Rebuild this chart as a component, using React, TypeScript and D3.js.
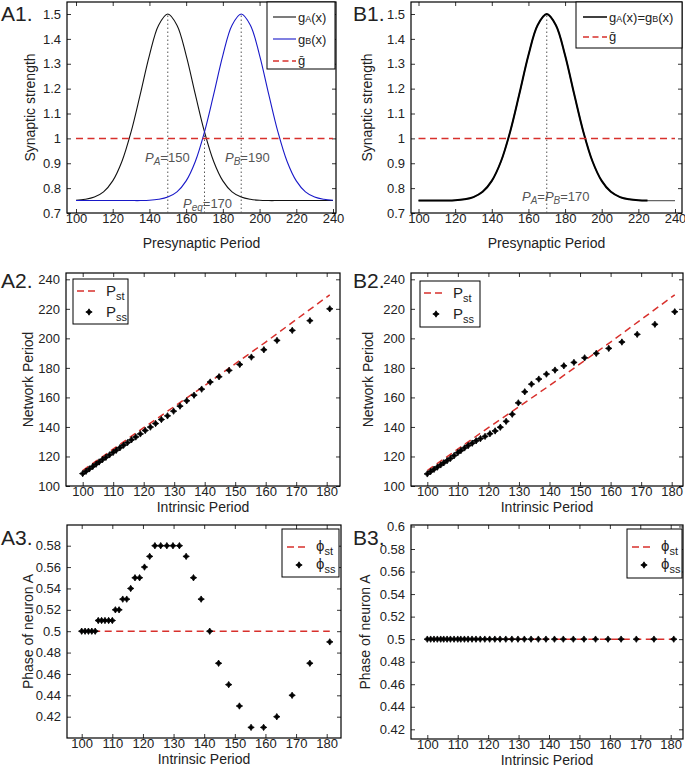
import * as d3 from 'd3';
import * as React from 'react';
import { useEffect, useRef } from 'react';

// ---- data ----

// top row: synaptic strength vs presynaptic period
const presynPeriod = [100, 105, 110, 115, 120, 125, 130, 135, 140, 145, 150, 155, 160, 165, 170, 175, 180, 185, 190, 195, 200, 205, 210, 215, 220, 225, 230, 235, 240];
const gA1 = [0.751, 0.755, 0.764, 0.785, 0.829, 0.907, 1.026, 1.177, 1.334, 1.455, 1.5, 1.455, 1.334, 1.177, 1.026, 0.907, 0.829, 0.785, 0.764, 0.755, 0.751, 0.75, 0.75, 0.75, 0.75, 0.75, 0.75, 0.75, 0.75];
const gB1 = [0.75, 0.75, 0.75, 0.75, 0.75, 0.75, 0.75, 0.75, 0.751, 0.755, 0.764, 0.785, 0.829, 0.907, 1.026, 1.177, 1.334, 1.455, 1.5, 1.455, 1.334, 1.177, 1.026, 0.907, 0.829, 0.785, 0.764, 0.755, 0.751];
const gEq = [0.75, 0.75, 0.75, 0.75, 0.751, 0.755, 0.764, 0.785, 0.829, 0.907, 1.026, 1.177, 1.334, 1.455, 1.5, 1.455, 1.334, 1.177, 1.026, 0.907, 0.829, 0.785, 0.764, 0.755, 0.751, 0.75, 0.75, 0.75, 0.75];
const gBar = 1;
const prefA = 150;
const prefB = 190;
const prefEq = 170;
const crossEq = 1.026;
const tailStart = 225; // B1: thick curve stops here, thin grey one continues

// middle + bottom rows: intrinsic period
const intrinsicPeriod = [100, 101.1, 102.2, 103.3, 104.4, 105.4, 106.5, 107.6, 108.8, 110, 111, 112.2, 113.4, 114.7, 116, 117.4, 118.9, 120.5, 122.2, 123.9, 125.8, 127.8, 129.8, 131.9, 134.1, 136.5, 139, 141.8, 144.7, 148, 151.5, 155.3, 159.4, 163.7, 168.7, 174.5, 181];
const pssA = [108.4, 110, 111.6, 113.2, 114.8, 116.3, 117.9, 119.4, 121.1, 122.8, 124.2, 125.9, 127.6, 129.4, 131.3, 133.2, 135.3, 137.6, 139.9, 142.3, 145, 147.5, 150.7, 154.1, 157.7, 161.5, 165.6, 170.4, 174, 178.3, 182.3, 187.3, 192.3, 198.6, 205.4, 212, 220];
const pssB = [108.2, 109.8, 111.3, 112.8, 114.3, 115.7, 117.2, 118.7, 120.6, 122.6, 124, 125.8, 127.4, 129, 130.6, 132.1, 133.6, 135.4, 137.3, 139.8, 143.8, 148.6, 156.3, 163.8, 169, 172.4, 175.8, 178.5, 181.4, 183.7, 186.8, 189.8, 193.2, 197.5, 202.7, 209.5, 218];
const pStX = [100, 120, 140, 160, 181];
const pStY = [110.5, 139.5, 168, 197.5, 229.5];
const phiSsA = [0.5, 0.5, 0.5, 0.5, 0.5, 0.51, 0.51, 0.51, 0.51, 0.51, 0.52, 0.52, 0.53, 0.53, 0.54, 0.55, 0.55, 0.56, 0.57, 0.58, 0.58, 0.58, 0.58, 0.58, 0.57, 0.55, 0.53, 0.5, 0.47, 0.45, 0.43, 0.41, 0.41, 0.42, 0.44, 0.47, 0.49];
const phiSsB = [0.5, 0.5, 0.5, 0.5, 0.5, 0.5, 0.5, 0.5, 0.5, 0.5, 0.5, 0.5, 0.5, 0.5, 0.5, 0.5, 0.5, 0.5, 0.5, 0.5, 0.5, 0.5, 0.5, 0.5, 0.5, 0.5, 0.5, 0.5, 0.5, 0.5, 0.5, 0.5, 0.5, 0.5, 0.5, 0.5, 0.5];
const phiStX = [100, 181];
const phiStY = [0.5, 0.5];

// tick labels
const presynTicks = [100, 120, 140, 160, 180, 200, 220, 240];
const strengthTicks = [0.7, 0.8, 0.9, 1, 1.1, 1.2, 1.3, 1.4, 1.5];
const intrinsicTicks = [100, 110, 120, 130, 140, 150, 160, 170, 180];
const networkTicks = [100, 120, 140, 160, 180, 200, 220, 240];
const phaseTicksA = [0.42, 0.44, 0.46, 0.48, 0.5, 0.52, 0.54, 0.56, 0.58];
const phaseTicksB = [0.42, 0.44, 0.46, 0.48, 0.5, 0.52, 0.54, 0.56, 0.58, 0.6];

// ---- layout ----
const W = 685;
const H = 767;
const FONT = '"Liberation Sans", Arial, Helvetica, sans-serif';
const RED = '#d8302c';
const BLUE = '#1818c8';
const GREY = '#555';

interface Box { l: number; r: number; t: number; b: number; }
interface Layout {
  box: Box;
  xd: [number, number]; xp: [number, number];
  yd: [number, number]; yp: [number, number];
}

const L: { [k: string]: Layout } = {
  A1: { box: { l: 67, r: 336, t: 2, b: 213 }, xd: [100, 240], xp: [76, 333], yd: [0.7, 1.5], yp: [213, 14] },
  B1: { box: { l: 411, r: 682, t: 2, b: 213 }, xd: [100, 240], xp: [418.5, 675], yd: [0.7, 1.5], yp: [213, 14] },
  A2: { box: { l: 66, r: 340, t: 273, b: 486 }, xd: [100, 180], xp: [82.7, 326.7], yd: [100, 240], yp: [486, 279.3] },
  B2: { box: { l: 411, r: 683, t: 273, b: 486 }, xd: [100, 180], xp: [427.3, 671.7], yd: [100, 240], yp: [486, 279.3] },
  A3: { box: { l: 67, r: 341, t: 525, b: 738 }, xd: [100, 180], xp: [81.7, 326.7], yd: [0.42, 0.58], yp: [716.7, 545.7] },
  B3: { box: { l: 411, r: 683, t: 525, b: 739 }, xd: [100, 180], xp: [427.3, 670.7], yd: [0.42, 0.58], yp: [729.3, 549] },
};

type Sel = d3.Selection<SVGGElement, unknown, null, undefined>;
type Part = { t: string; size?: number; dy?: number; italic?: boolean };

function richText(g: Sel, x: number, y: number, parts: Part[], size: number, color: string) {
  const txt = g.append('text')
    .attr('x', x).attr('y', y)
    .attr('font-family', FONT).attr('font-size', size).attr('fill', color);
  parts.forEach(p => {
    const s = txt.append('tspan').text(p.t);
    if (p.size) s.attr('font-size', p.size);
    if (p.dy) s.attr('dy', p.dy);
    if (p.italic) s.attr('font-style', 'italic');
  });
}

// four-pointed star marker (matlab-ish filled plus)
const starPath = d3.lineRadial<number>()
  .angle((_, i) => (i * Math.PI) / 4)
  .radius(r => r)
  .curve(d3.curveLinearClosed)([3.2, 1.7, 3.2, 1.7, 3.2, 1.7, 3.2, 1.7]) as string;

function marker(g: Sel, cx: number, cy: number) {
  g.append('path').attr('transform', `translate(${cx},${cy})`).attr('d', starPath)
    .attr('fill', '#000').attr('stroke', '#000').attr('stroke-width', 0.8).attr('stroke-linejoin', 'round');
}

function panel(svg: Sel, lay: Layout, xTicks: number[], yTicks: number[], tag: string, tagX: number, tagY: number,
               xLabel: string, xLabelY: number, yLabel: string, yLabelX: number) {
  const { box } = lay;
  const x = d3.scaleLinear().domain(lay.xd).range(lay.xp);
  const y = d3.scaleLinear().domain(lay.yd).range(lay.yp);
  const g = svg.append('g');
  const fmt = (d: d3.NumberValue) => String(d);
  const tk = 4;

  const style = (a: Sel) => {
    a.select('.domain').remove();
    a.selectAll('text').attr('font-family', FONT).attr('font-size', 13).attr('fill', '#222');
    a.selectAll('line').attr('stroke', '#000').attr('stroke-width', 0.8);
  };

  const bottom = g.append('g').attr('transform', `translate(0,${box.b})`)
    .call(d3.axisBottom(x).tickValues(xTicks).tickSizeInner(-tk).tickSizeOuter(0).tickPadding(1).tickFormat(fmt));
  style(bottom);
  const top = g.append('g').attr('transform', `translate(0,${box.t})`)
    .call(d3.axisTop(x).tickValues(xTicks).tickSizeInner(-tk).tickSizeOuter(0).tickFormat(() => ''));
  style(top);
  const left = g.append('g').attr('transform', `translate(${box.l},0)`)
    .call(d3.axisLeft(y).tickValues(yTicks).tickSizeInner(-tk).tickSizeOuter(0).tickPadding(6).tickFormat(fmt));
  style(left);
  const right = g.append('g').attr('transform', `translate(${box.r},0)`)
    .call(d3.axisRight(y).tickValues(yTicks).tickSizeInner(-tk).tickSizeOuter(0).tickFormat(() => ''));
  style(right);

  g.append('rect')
    .attr('x', box.l).attr('y', box.t).attr('width', box.r - box.l).attr('height', box.b - box.t)
    .attr('fill', 'none').attr('stroke', '#000').attr('stroke-width', 1.2);

  g.append('text').attr('x', tagX).attr('y', tagY)
    .attr('font-family', FONT).attr('font-size', 21).attr('fill', '#222').text(tag);
  g.append('text').attr('x', (box.l + box.r) / 2).attr('y', xLabelY)
    .attr('text-anchor', 'middle').attr('dominant-baseline', 'central')
    .attr('font-family', FONT).attr('font-size', 14).attr('fill', '#222').text(xLabel);
  g.append('text').attr('transform', `translate(${yLabelX},${(box.t + box.b) / 2}) rotate(-90)`)
    .attr('text-anchor', 'middle').attr('dominant-baseline', 'central')
    .attr('font-family', FONT).attr('font-size', 14).attr('fill', '#222').text(yLabel);

  const plot = g.append('g');
  return { x, y, g, plot };
}

function legendBox(g: Sel, b: Box) {
  g.append('rect').attr('x', b.l).attr('y', b.t).attr('width', b.r - b.l).attr('height', b.b - b.t)
    .attr('fill', '#fff').attr('stroke', '#000').attr('stroke-width', 1);
}

function legLine(g: Sel, x0: number, x1: number, yy: number, color: string, w: number, dash?: string) {
  const l = g.append('line').attr('x1', x0).attr('x2', x1).attr('y1', yy).attr('y2', yy)
    .attr('stroke', color).attr('stroke-width', w);
  if (dash) l.attr('stroke-dasharray', dash);
}

const DASH = '7,4.5';

export default function App() {
  const ref = useRef<SVGSVGElement | null>(null);

  useEffect(() => {
    if (!ref.current) return;
    const svg = d3.select(ref.current);
    svg.selectAll('*').remove();
    const root = svg.append('g') as unknown as Sel;

    // ---------- A1 ----------
    {
      const { x, y, plot } = panel(root, L.A1, presynTicks, strengthTicks, 'A1.', 1, 21,
        'Presynaptic Period', 243, 'Synaptic strength', 30);
      const curve = (vals: number[]) => d3.line<number>()
        .x((_, i) => x(presynPeriod[i])).y(d => y(d)).curve(d3.curveCatmullRom)(vals) as string;
      const dots = (px: number, top: number) => plot.append('line')
        .attr('x1', x(px)).attr('x2', x(px)).attr('y1', y(0.7)).attr('y2', y(top))
        .attr('stroke', GREY).attr('stroke-width', 1).attr('stroke-dasharray', '1.5,2.5');
      dots(prefA, 1.5); dots(prefB, 1.5); dots(prefEq, crossEq);
      plot.append('path').attr('d', curve(gA1)).attr('fill', 'none').attr('stroke', '#111').attr('stroke-width', 1.1);
      plot.append('path').attr('d', curve(gB1)).attr('fill', 'none').attr('stroke', BLUE).attr('stroke-width', 1.1);
      plot.append('line').attr('x1', x(100)).attr('x2', x(240)).attr('y1', y(gBar)).attr('y2', y(gBar))
        .attr('stroke', RED).attr('stroke-width', 1.5).attr('stroke-dasharray', DASH);
      richText(plot, 145, 162, [{ t: 'P', italic: true }, { t: 'A', italic: true, size: 10, dy: 3 }, { t: '=150', dy: -3 }], 13, GREY);
      richText(plot, 225, 162, [{ t: 'P', italic: true }, { t: 'B', italic: true, size: 10, dy: 3 }, { t: '=190', dy: -3 }], 13, GREY);
      richText(plot, 183, 208, [{ t: 'P', italic: true }, { t: 'eq', italic: true, size: 10, dy: 3 }, { t: '=170', dy: -3 }], 13, GREY);
      legendBox(plot, { l: 267, r: 335, t: 2, b: 69 });
      legLine(plot, 273, 296, 17, '#111', 1.1);
      legLine(plot, 273, 296, 39, BLUE, 1.1);
      legLine(plot, 273, 296, 61, RED, 1.5, '6,3.5');
      richText(plot, 298, 22, [{ t: 'g' }, { t: 'A', size: 9 }, { t: '(x)' }], 13, '#222');
      richText(plot, 298, 44, [{ t: 'g' }, { t: 'B', size: 9 }, { t: '(x)' }], 13, '#222');
      richText(plot, 298, 65, [{ t: '\u1E21' }], 13, '#222');
    }

    // ---------- B1 ----------
    {
      const { x, y, plot } = panel(root, L.B1, presynTicks, strengthTicks, 'B1.', 353, 21,
        'Presynaptic Period', 243, 'Synaptic strength', 367);
      const line = d3.line<number>().x(d => x(d)).y((_, i) => y(gEq[i])).curve(d3.curveCatmullRom);
      plot.append('line')
        .attr('x1', x(prefEq)).attr('x2', x(prefEq)).attr('y1', y(0.7)).attr('y2', y(1.5))
        .attr('stroke', GREY).attr('stroke-width', 1).attr('stroke-dasharray', '1.5,2.5');
      plot.append('path').attr('d', line(presynPeriod) as string).attr('fill', 'none').attr('stroke', '#666').attr('stroke-width', 1.3);
      const thickIdx = presynPeriod.filter(p => p <= tailStart);
      plot.append('path').attr('d', line(thickIdx) as string).attr('fill', 'none').attr('stroke', '#000').attr('stroke-width', 2);
      plot.append('line').attr('x1', x(100)).attr('x2', x(240)).attr('y1', y(gBar)).attr('y2', y(gBar))
        .attr('stroke', RED).attr('stroke-width', 1.5).attr('stroke-dasharray', DASH);
      richText(plot, 522, 201, [{ t: 'P', italic: true }, { t: 'A', italic: true, size: 10, dy: 3 }, { t: '=', dy: -3 },
        { t: 'P', italic: true }, { t: 'B', italic: true, size: 10, dy: 3 }, { t: '=170', dy: -3 }], 13, GREY);
      legendBox(plot, { l: 576, r: 682, t: 2, b: 48 });
      legLine(plot, 583, 607, 17, '#000', 1.5);
      legLine(plot, 583, 607, 37, RED, 1.5, '6,3.5');
      richText(plot, 609, 22, [{ t: 'g' }, { t: 'A', size: 9 }, { t: '(x)=g' }, { t: 'B', size: 9 }, { t: '(x)' }], 13, '#222');
      richText(plot, 609, 41, [{ t: '\u1E21' }], 13, '#222');
    }

    // ---------- A2 / B2 ----------
    const periodPanel = (lay: Layout, tag: string, tagX: number, pss: number[], yLabX: number, leg: Box) => {
      const { x, y, plot } = panel(root, lay, intrinsicTicks, networkTicks, tag, tagX, 288,
        'Intrinsic Period', 507, 'Network Period', yLabX);
      const st = d3.line<number>().x(d => x(d)).y((_, i) => y(pStY[i]));
      plot.append('path').attr('d', st(pStX) as string).attr('fill', 'none')
        .attr('stroke', RED).attr('stroke-width', 1.5).attr('stroke-dasharray', DASH);
      pss.forEach((v, i) => marker(plot, x(intrinsicPeriod[i]), y(v)));
      legendBox(plot, leg);
      const cx = leg.l + 4;
      legLine(plot, cx, cx + 21, leg.t + 12, RED, 1.5, '7,4');
      marker(plot, cx + 12, leg.t + 33);
      richText(plot, cx + 29, leg.t + 17, [{ t: 'P' }, { t: 'st', size: 11, dy: 4 }], 15, '#222');
      richText(plot, cx + 29, leg.t + 38, [{ t: 'P' }, { t: 'ss', size: 11, dy: 4 }], 15, '#222');
    };
    periodPanel(L.A2, 'A2.', 1, pssA, 28, { l: 73, r: 128, t: 279, b: 324 });
    periodPanel(L.B2, 'B2.', 353, pssB, 368, { l: 420, r: 480, t: 281, b: 327 });

    // ---------- A3 / B3 ----------
    const phasePanel = (lay: Layout, tag: string, tagX: number, ticks: number[], phi: number[], yLabX: number, leg: Box) => {
      const { x, y, plot } = panel(root, lay, intrinsicTicks, ticks, tag, tagX, 545,
        'Intrinsic Period', lay.box.b + 21, 'Phase of neuron A', yLabX);
      const st = d3.line<number>().x(d => x(d)).y((_, i) => y(phiStY[i]));
      plot.append('path').attr('d', st(phiStX) as string).attr('fill', 'none')
        .attr('stroke', RED).attr('stroke-width', 1.5).attr('stroke-dasharray', DASH);
      phi.forEach((v, i) => marker(plot, x(intrinsicPeriod[i]), y(v)));
      legendBox(plot, leg);
      const cx = leg.l + 5;
      legLine(plot, cx, cx + 21, leg.t + 18, RED, 1.5, '7,4');
      marker(plot, cx + 12, leg.t + 36);
      richText(plot, cx + 29, leg.t + 22, [{ t: '\u03D5' }, { t: 'st', size: 11, dy: 4 }], 15, '#222');
      richText(plot, cx + 29, leg.t + 40, [{ t: '\u03D5' }, { t: 'ss', size: 11, dy: 4 }], 15, '#222');
    };
    phasePanel(L.A3, 'A3.', 1, phaseTicksA, phiSsA, 28, { l: 282, r: 339, t: 529, b: 577 });
    phasePanel(L.B3, 'B3.', 353, phaseTicksB, phiSsB, 365, { l: 627, r: 682, t: 529, b: 578 });
  }, []);

  return (
    <svg ref={ref} width={W} height={H}
      style={{ position: 'absolute', left: 0, top: 0, background: '#fff', display: 'block' }} />
  );
}
